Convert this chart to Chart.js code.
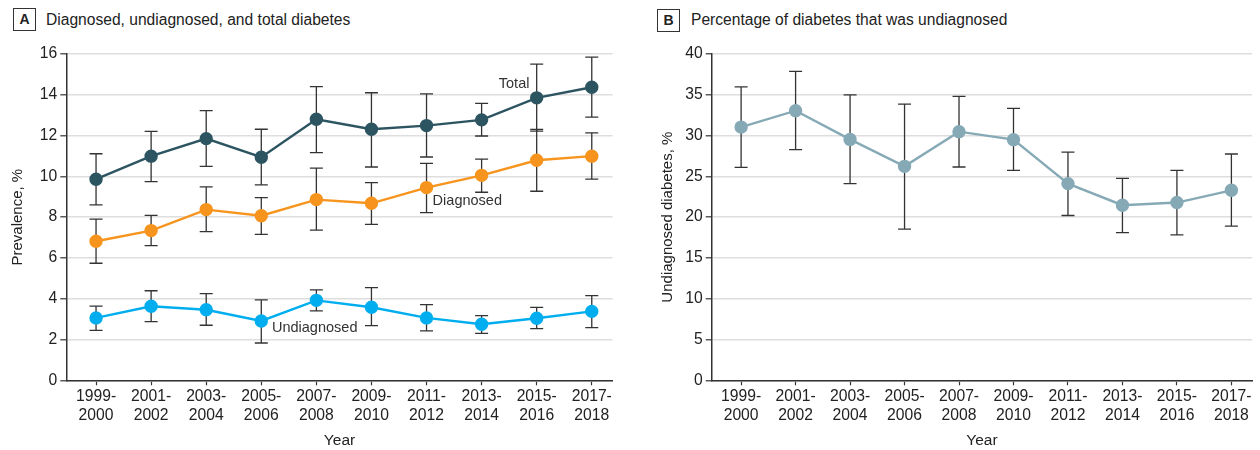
<!DOCTYPE html>
<html><head><meta charset="utf-8">
<script src="https://cdn.jsdelivr.net/npm/chart.js@4"></script>
<style>
body{margin:0;background:#fff;width:1260px;height:450px;overflow:hidden;position:relative;font-family:"Liberation Sans",Arial,sans-serif;color:#222}
#wa{position:absolute;left:0;top:0;width:630px;height:450px}
#wb{position:absolute;left:640px;top:0;width:620px;height:450px}
.box{position:absolute;width:21px;height:21px;border:1.3px solid #333;font-weight:bold;font-size:14px;text-align:center;line-height:21px;color:#222}
.ttl{position:absolute;font-size:15.6px;color:#222;line-height:20px}
</style></head><body>
<div class="box" style="left:13px;top:8px">A</div>
<div class="ttl" style="left:46px;top:10px">Diagnosed, undiagnosed, and total diabetes</div>
<div class="box" style="left:657px;top:9px">B</div>
<div class="ttl" style="left:691px;top:10px">Percentage of diabetes that was undiagnosed</div>
<div id="wa"><canvas id="ca"></canvas></div>
<div id="wb"><canvas id="cb"></canvas></div>
<script>
const tickLabels = [['1999-','2000'],['2001-','2002'],['2003-','2004'],['2005-','2006'],['2007-','2008'],['2009-','2010'],['2011-','2012'],['2013-','2014'],['2015-','2016'],['2017-','2018']];
const totalVals  = [9.86, 10.99, 11.85, 10.94, 12.80, 12.31, 12.49, 12.77, 13.85, 14.37];
const totalLow   = [8.60, 9.74, 10.49, 9.58, 11.16, 10.46, 10.95, 11.98, 12.22, 12.90];
const totalHigh  = [11.11, 12.21, 13.22, 12.31, 14.40, 14.10, 14.04, 13.58, 15.50, 15.85];
const diagVals   = [6.82, 7.34, 8.37, 8.07, 8.86, 8.68, 9.45, 10.05, 10.79, 10.99];
const diagLow    = [5.74, 6.60, 7.29, 7.16, 7.36, 7.65, 8.22, 9.22, 9.27, 9.86];
const diagHigh   = [7.90, 8.09, 9.48, 8.96, 10.40, 9.69, 10.64, 10.85, 12.30, 12.13];
const undiagVals = [3.06, 3.63, 3.46, 2.91, 3.92, 3.58, 3.06, 2.75, 3.04, 3.38];
const undiagLow  = [2.45, 2.88, 2.70, 1.83, 3.40, 2.68, 2.42, 2.30, 2.53, 2.58];
const undiagHigh = [3.64, 4.39, 4.25, 3.94, 4.43, 4.54, 3.71, 3.17, 3.58, 4.15];
const pctVals    = [31.04, 33.05, 29.53, 26.23, 30.48, 29.50, 24.11, 21.46, 21.79, 23.29];
const pctLow     = [26.10, 28.27, 24.11, 18.52, 26.15, 25.74, 20.20, 18.11, 17.82, 18.89];
const pctHigh    = [35.98, 37.86, 35.00, 33.86, 34.80, 33.33, 27.98, 24.76, 25.74, 27.74];

const FONT = '"Liberation Sans", Arial, sans-serif';
const TXT = '#222';

const errPlugin = {
  id: 'errbars',
  beforeDatasetsDraw(chart, args, opts) {
    const ctx = chart.ctx, xs = chart.scales.x, ys = chart.scales.y;
    ctx.save();
    ctx.strokeStyle = '#333'; ctx.lineWidth = 1.3;
    (opts.sets || []).forEach(s => {
      s.low.forEach((lo, i) => {
        const x = xs.getPixelForValue(i), y1 = ys.getPixelForValue(lo), y2 = ys.getPixelForValue(s.high[i]);
        ctx.beginPath();
        ctx.moveTo(x, y1); ctx.lineTo(x, y2);
        ctx.moveTo(x - 6.5, y1); ctx.lineTo(x + 6.5, y1);
        ctx.moveTo(x - 6.5, y2); ctx.lineTo(x + 6.5, y2);
        ctx.stroke();
      });
    });
    ctx.restore();
  }
};
const labelPlugin = {
  id: 'serieslabels',
  afterDatasetsDraw(chart, args, opts) {
    const ctx = chart.ctx, xs = chart.scales.x, ys = chart.scales.y;
    ctx.save();
    ctx.fillStyle = '#333'; ctx.font = '14.5px ' + FONT;
    ctx.textAlign = 'center'; ctx.textBaseline = 'middle';
    (opts.items || []).forEach(it => ctx.fillText(it.text, xs.getPixelForValue(it.x), ys.getPixelForValue(it.y)));
    ctx.restore();
  }
};

function ds(vals, color, label) {
  return {label, data: vals.map((v, i) => ({x: i, y: v})), borderColor: color, backgroundColor: color,
    pointBackgroundColor: color, pointBorderColor: color, pointRadius: 5.5, pointHoverRadius: 5.5,
    borderWidth: 2.4, tension: 0, clip: false};
}

function makeOpts(yMax, yStep, yTitle, yW, yTitlePad, rightPad) {
  return {
    responsive: false, animation: false, maintainAspectRatio: false,
    layout: {padding: {top: 54, right: rightPad, left: 0, bottom: 0}},
    plugins: {legend: {display: false}, tooltip: {enabled: false}},
    scales: {
      x: {
        type: 'linear', min: -0.54, max: 9.38,
        afterBuildTicks: ax => { ax.ticks = tickLabels.map((_, i) => ({value: i})); },
        afterFit: s => { s.height = 69.7; },
        ticks: {callback: (v) => tickLabels[v], autoSkip: false, maxRotation: 0, color: TXT,
          font: {size: 15.7, family: FONT, lineHeight: 1.2}, padding: 2},
        grid: {display: true, drawOnChartArea: false, tickLength: 5, tickColor: '#333', tickWidth: 1.2},
        border: {color: '#333', width: 1.5},
        title: {display: true, text: 'Year', color: TXT, font: {size: 15.5, family: FONT, lineHeight: 1.2}, padding: 0}
      },
      y: {
        min: 0, max: yMax,
        afterFit: s => { s.width = yW; },
        ticks: {stepSize: yStep, color: TXT, font: {size: 15.7, family: FONT}, padding: 3},
        grid: {color: '#dedede', lineWidth: 1.6, tickColor: '#333', tickLength: 6, tickWidth: 1.2},
        border: {color: '#333', width: 1.5},
        title: {display: true, text: yTitle, color: TXT, font: {size: 15, family: FONT, lineHeight: 1.2}, padding: {top: yTitlePad, bottom: 0}}
      }
    }
  };
}

const optA = makeOpts(16, 2, 'Prevalence, %', 66.3, 8.7, 17.3);
optA.plugins.errbars = {sets: [{low: totalLow, high: totalHigh}, {low: diagLow, high: diagHigh}, {low: undiagLow, high: undiagHigh}]};
optA.plugins.serieslabels = {items: [{text: 'Total', x: 7.59, y: 14.52}, {text: 'Diagnosed', x: 6.74, y: 8.81}, {text: 'Undiagnosed', x: 3.97, y: 2.58}]};
const ca = document.getElementById('ca'); ca.width = 630; ca.height = 450;
new Chart(ca, {type: 'line', data: {datasets: [
  ds(totalVals, '#2c5461', 'Total'), ds(diagVals, '#f7941d', 'Diagnosed'), ds(undiagVals, '#00aeef', 'Undiagnosed')]},
  options: optA, plugins: [errPlugin, labelPlugin]});

const optB = makeOpts(40, 5, 'Undiagnosed diabetes, %', 71.7, 19, 2);
optB.plugins.errbars = {sets: [{low: pctLow, high: pctHigh}]};
const cb = document.getElementById('cb'); cb.width = 620; cb.height = 450;
new Chart(cb, {type: 'line', data: {datasets: [ds(pctVals, '#86a9b6', 'Undiagnosed share')]},
  options: optB, plugins: [errPlugin]});
</script>
</body></html>
